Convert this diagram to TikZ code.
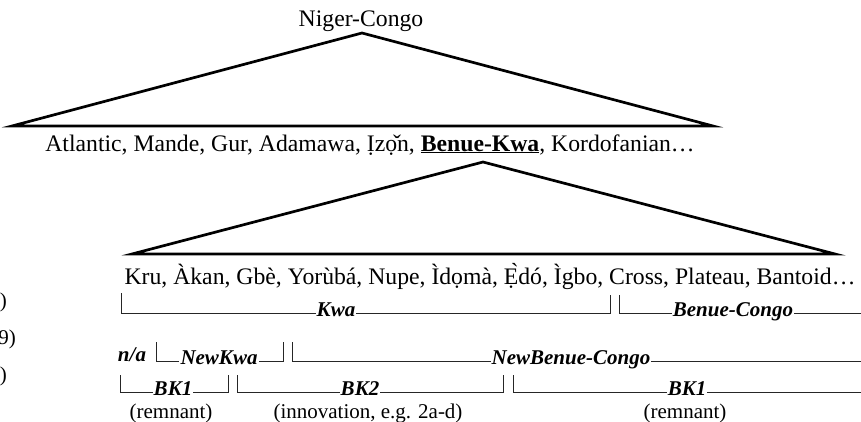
\documentclass[tikz,border=0pt]{standalone}
\usepackage{fontspec}
\setmainfont{Liberation Serif}
\begin{document}
\begin{tikzpicture}[x=1pt,y=-1pt,
  txt/.style={font=\fontsize{23.7}{28}\selectfont, inner sep=0pt, anchor=base},
  sml/.style={font=\fontsize{21}{25}\selectfont, inner sep=0pt, anchor=base},
  lab/.style={font=\fontsize{21}{25}\selectfont\bfseries\itshape, inner sep=1pt, anchor=base, fill=white},
  tri/.style={line width=2.7pt, line join=miter},
  brk/.style={line width=0.8pt, black!85}]
\useasboundingbox (0,0) rectangle (861,421);
\clip (0,0) rectangle (861,421);
% top triangle
\node[txt] (nc) at (361,26) {Niger-Congo};
\coordinate (t1a) at (362,33);
\coordinate (t1l) at (12,126);
\coordinate (t1r) at (713,126);
\draw[tri] (t1a) -- (t1l) -- (t1r) -- cycle;
\node[txt] (l2) at (370,151) {Atlantic, Mande, Gur, Adamawa, Ịzọ̌n, \underline{\textbf{Benue-Kwa}}, Kordofanian…};
% second triangle
\coordinate (t2a) at (483,162);
\coordinate (t2l) at (132,254);
\coordinate (t2r) at (835,254);
\draw[tri] (t2a) -- (t2l) -- (t2r) -- cycle;
\node[txt] (l3) at (490,284) {Kru, Àkan, Gbè, Yorùbá, Nupe, Ìdọmà, Ẹ̀dó, Ìgbo, Cross, Plateau, Bantoid…};
% row labels (cut off at left edge, as in the reference)
\node[sml, anchor=base east] (r1) at (7,307) {(1)};
\node[sml, anchor=base east] (r2) at (16,344) {(19)};
\node[sml, anchor=base east] (r3) at (7,381) {(2)};
% row 1
\coordinate (k1) at (121,293); \coordinate (k2) at (121,313);
\coordinate (k3) at (610,313); \coordinate (k4) at (610,295);
\draw[brk] (k1) -- (k2) -- (k3) -- (k4);
\node[lab] (kwa) at (336,316) {Kwa};
\coordinate (b1) at (619,295); \coordinate (b2) at (619,313); \coordinate (b3) at (870,313);
\draw[brk] (b1) -- (b2) -- (b3);
\node[lab] (bc) at (733,316) {Benue-Congo};
% row 2
\node[lab, fill=none, inner sep=0pt] (na) at (132,361) {n/a};
\coordinate (n1) at (156,342); \coordinate (n2) at (156,361);
\coordinate (n3) at (283,361); \coordinate (n4) at (283,342);
\draw[brk] (n1) -- (n2) -- (n3) -- (n4);
\node[lab] (nk) at (219,364) {NewKwa};
\coordinate (m1) at (292,342); \coordinate (m2) at (292,361); \coordinate (m3) at (870,361);
\draw[brk] (m1) -- (m2) -- (m3);
\node[lab] (nbc) at (571,364) {NewBenue-Congo};
% row 3
\coordinate (p1) at (120,375); \coordinate (p2) at (120,392);
\coordinate (p3) at (228,392); \coordinate (p4) at (228,375);
\draw[brk] (p1) -- (p2) -- (p3) -- (p4);
\node[lab] (bk1) at (173,395) {BK1};
\coordinate (q1) at (237,375); \coordinate (q2) at (237,392);
\coordinate (q3) at (503,392); \coordinate (q4) at (503,375);
\draw[brk] (q1) -- (q2) -- (q3) -- (q4);
\node[lab] (bk2) at (360,395) {BK2};
\coordinate (s1) at (513,375); \coordinate (s2) at (513,392); \coordinate (s3) at (870,392);
\draw[brk] (s1) -- (s2) -- (s3);
\node[lab] (bk3) at (687,395) {BK1};
\node[sml] (rm1) at (171,418) {(remnant)};
\node[sml] (inn) at (368,418) {(innovation, e.g. 2a-d)};
\node[sml] (rm2) at (685,418) {(remnant)};
\end{tikzpicture}
\end{document}
